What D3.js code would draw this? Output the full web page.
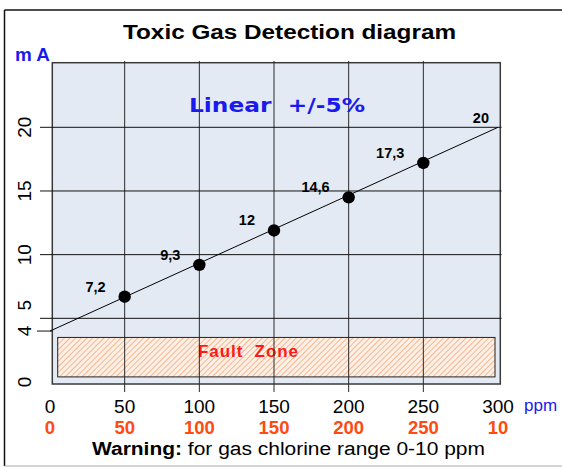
<!DOCTYPE html>
<html>
<head>
<meta charset="utf-8">
<script src="https://cdn.jsdelivr.net/npm/d3@7"></script>
<style>
  body { margin: 0; background: #fff; }
  svg { display: block; font-family: "Liberation Sans", Arial, sans-serif; }
</style>
</head>
<body>
<svg id="chart" width="562" height="467"></svg>
<script>
// ppm reading vs. output current
var ppmTicks = [0, 50, 100, 150, 200, 250, 300]
var chlorineTicks = ["0", "50", "100", "150", "200", "250", "10"]
var maTicks = [0, 4, 5, 10, 15, 20]
var maGrid = [5, 10, 15, 20]

var pointPpm = [50, 100, 150, 200, 250]
var pointMa = [6.7, 9.2, 11.9, 14.5, 17.2]
var pointLabels = ["7,2", "9,3", "12", "14,6", "17,3"]

var linePpm = [0, 300]
var lineMa = [4, 20]
var lineEndLabel = "20"

var faultZone = [0.4, 3.5]   // mA band, drawn across the range

var svg = d3.select("#chart")
var blue = "#1a1aee"
var red = "#ff4a12"

var x = d3.scaleLinear().domain([0, 300]).range([50, 498])
var y = d3.scaleLinear().domain([0, 20]).range([382, 127.3])

// outer frame
svg.append("line").attr("x1", 4.5).attr("x2", 562).attr("y1", 10).attr("y2", 10)
    .attr("stroke", "#111").attr("stroke-width", 1.5)
svg.append("line").attr("x1", 4.5).attr("x2", 4.5).attr("y1", 10).attr("y2", 466)
    .attr("stroke", "#111").attr("stroke-width", 1.5)
svg.append("line").attr("x1", 4.5).attr("x2", 562).attr("y1", 466).attr("y2", 466)
    .attr("stroke", "#aaa").attr("stroke-width", 1)

svg.append("text")
    .attr("x", 289.5).attr("y", 38.5)
    .attr("text-anchor", "middle")
    .attr("font-size", 20).attr("font-weight", "bold")
    .attr("textLength", 333).attr("lengthAdjust", "spacingAndGlyphs")
    .text("Toxic Gas Detection diagram")

svg.append("text")
    .attr("x", 15).attr("y", 61)
    .attr("font-size", 19).attr("font-weight", "bold").attr("fill", blue)
    .attr("textLength", 35).attr("lengthAdjust", "spacingAndGlyphs")
    .text("m A")

// plot background
svg.append("rect")
    .attr("x", 52.3).attr("y", 62.7).attr("width", 448).attr("height", 321.3)
    .attr("fill", "#e4eaf4").attr("stroke", "#3a3a3a").attr("stroke-width", 1.5)

// hatch for the fault zone
var defs = svg.append("defs")
var pat = defs.append("pattern")
    .attr("id", "hatch").attr("patternUnits", "userSpaceOnUse")
    .attr("width", 4).attr("height", 4)
    .attr("patternTransform", "rotate(45)")
pat.append("rect").attr("width", 4).attr("height", 4).attr("fill", "#fdf0e6")
pat.append("line").attr("x1", 0).attr("x2", 0).attr("y1", 0).attr("y2", 4)
    .attr("stroke", "#f5a77a").attr("stroke-width", 1.6)

svg.append("rect")
    .attr("x", 57.7).attr("width", 437.3)
    .attr("y", y(faultZone[1])).attr("height", y(faultZone[0]) - y(faultZone[1]))
    .attr("fill", "url(#hatch)").attr("stroke", "#222").attr("stroke-width", 1)

svg.append("text")
    .attr("x", 198).attr("y", 357)
    .attr("font-size", 17).attr("font-weight", "bold").attr("fill", "#ff1a1a")
    .attr("textLength", 100).attr("lengthAdjust", "spacing")
    .style("white-space", "pre")
    .text("Fault  Zone")

// grid
svg.append("g").selectAll("line")
    .data(ppmTicks.slice(1, -1))
    .enter().append("line")
    .attr("x1", function(d) { return x(d) })
    .attr("x2", function(d) { return x(d) })
    .attr("y1", 61).attr("y2", 392)
    .attr("stroke", "#2a2a2a").attr("stroke-width", 1)

svg.append("g").selectAll("line")
    .data(maGrid)
    .enter().append("line")
    .attr("x1", 40).attr("x2", 501.5)
    .attr("y1", function(d) { return y(d) })
    .attr("y2", function(d) { return y(d) })
    .attr("stroke", "#111").attr("stroke-width", 1)

// short tick at 4 mA
svg.append("line")
    .attr("x1", 37).attr("x2", 52)
    .attr("y1", y(4)).attr("y2", y(4))
    .attr("stroke", "#111")

svg.append("text")
    .attr("x", 189).attr("y", 112.3)
    .attr("font-family", "DejaVu Sans, Verdana, sans-serif")
    .attr("font-size", 20).attr("font-weight", "bold").attr("fill", blue)
    .attr("textLength", 176).attr("lengthAdjust", "spacingAndGlyphs")
    .style("white-space", "pre")
    .text("Linear  +/-5%")

// response line
var line = d3.line()
    .x(function(d) { return x(d[0]) })
    .y(function(d) { return y(d[1]) })
svg.append("path")
    .datum(d3.zip(linePpm, lineMa))
    .attr("d", line)
    .attr("fill", "none").attr("stroke", "#000").attr("stroke-width", 1)

svg.append("g").selectAll("circle")
    .data(d3.zip(pointPpm, pointMa))
    .enter().append("circle")
    .attr("cx", function(d) { return x(d[0]) })
    .attr("cy", function(d) { return y(d[1]) })
    .attr("r", 6.2)
    .attr("fill", "#000")

var labelFont = "Liberation Sans Narrow, Liberation Sans, Arial, sans-serif"
svg.append("g").selectAll("text")
    .data(d3.zip(pointPpm, pointMa, pointLabels))
    .enter().append("text")
    .attr("x", function(d) { return x(d[0]) - 19 })
    .attr("y", function(d) { return y(d[1]) - 5 })
    .attr("text-anchor", "end")
    .attr("font-family", labelFont)
    .attr("font-size", 14.5).attr("font-weight", "bold")
    .text(function(d) { return d[2] })

svg.append("text")
    .attr("x", x(linePpm[1]) - 9).attr("y", y(lineMa[1]) - 4.5)
    .attr("text-anchor", "end")
    .attr("font-family", labelFont)
    .attr("font-size", 14.5).attr("font-weight", "bold")
    .text(lineEndLabel)

// y labels, rotated
svg.append("g").selectAll("text")
    .data(maTicks)
    .enter().append("text")
    .attr("transform", function(d) {
        var yy = y(d) - (d === 5 ? 13 : 0)
        return "translate(31," + yy + ") rotate(-90)"
    })
    .attr("text-anchor", "middle")
    .attr("font-size", 19)
    .text(function(d) { return d })

// x labels: ppm scale and chlorine scale
svg.append("g").selectAll("text")
    .data(ppmTicks)
    .enter().append("text")
    .attr("x", function(d) { return x(d) })
    .attr("y", 413)
    .attr("text-anchor", "middle")
    .attr("font-size", 19)
    .text(function(d) { return d })

svg.append("g").selectAll("text")
    .data(d3.zip(ppmTicks, chlorineTicks))
    .enter().append("text")
    .attr("x", function(d) { return x(d[0]) })
    .attr("y", 434)
    .attr("text-anchor", "middle")
    .attr("font-size", 18.5).attr("font-weight", "bold").attr("fill", red)
    .text(function(d) { return d[1] })

svg.append("text")
    .attr("x", 524).attr("y", 411)
    .attr("font-size", 17).attr("fill", blue)
    .text("ppm")

var warn = svg.append("text")
    .attr("x", 92).attr("y", 455)
    .attr("font-size", 18)
    .attr("textLength", 393).attr("lengthAdjust", "spacingAndGlyphs")
warn.append("tspan").attr("font-weight", "bold").text("Warning:")
warn.append("tspan").text(" for gas chlorine range 0-10 ppm")
</script>
</body>
</html>
